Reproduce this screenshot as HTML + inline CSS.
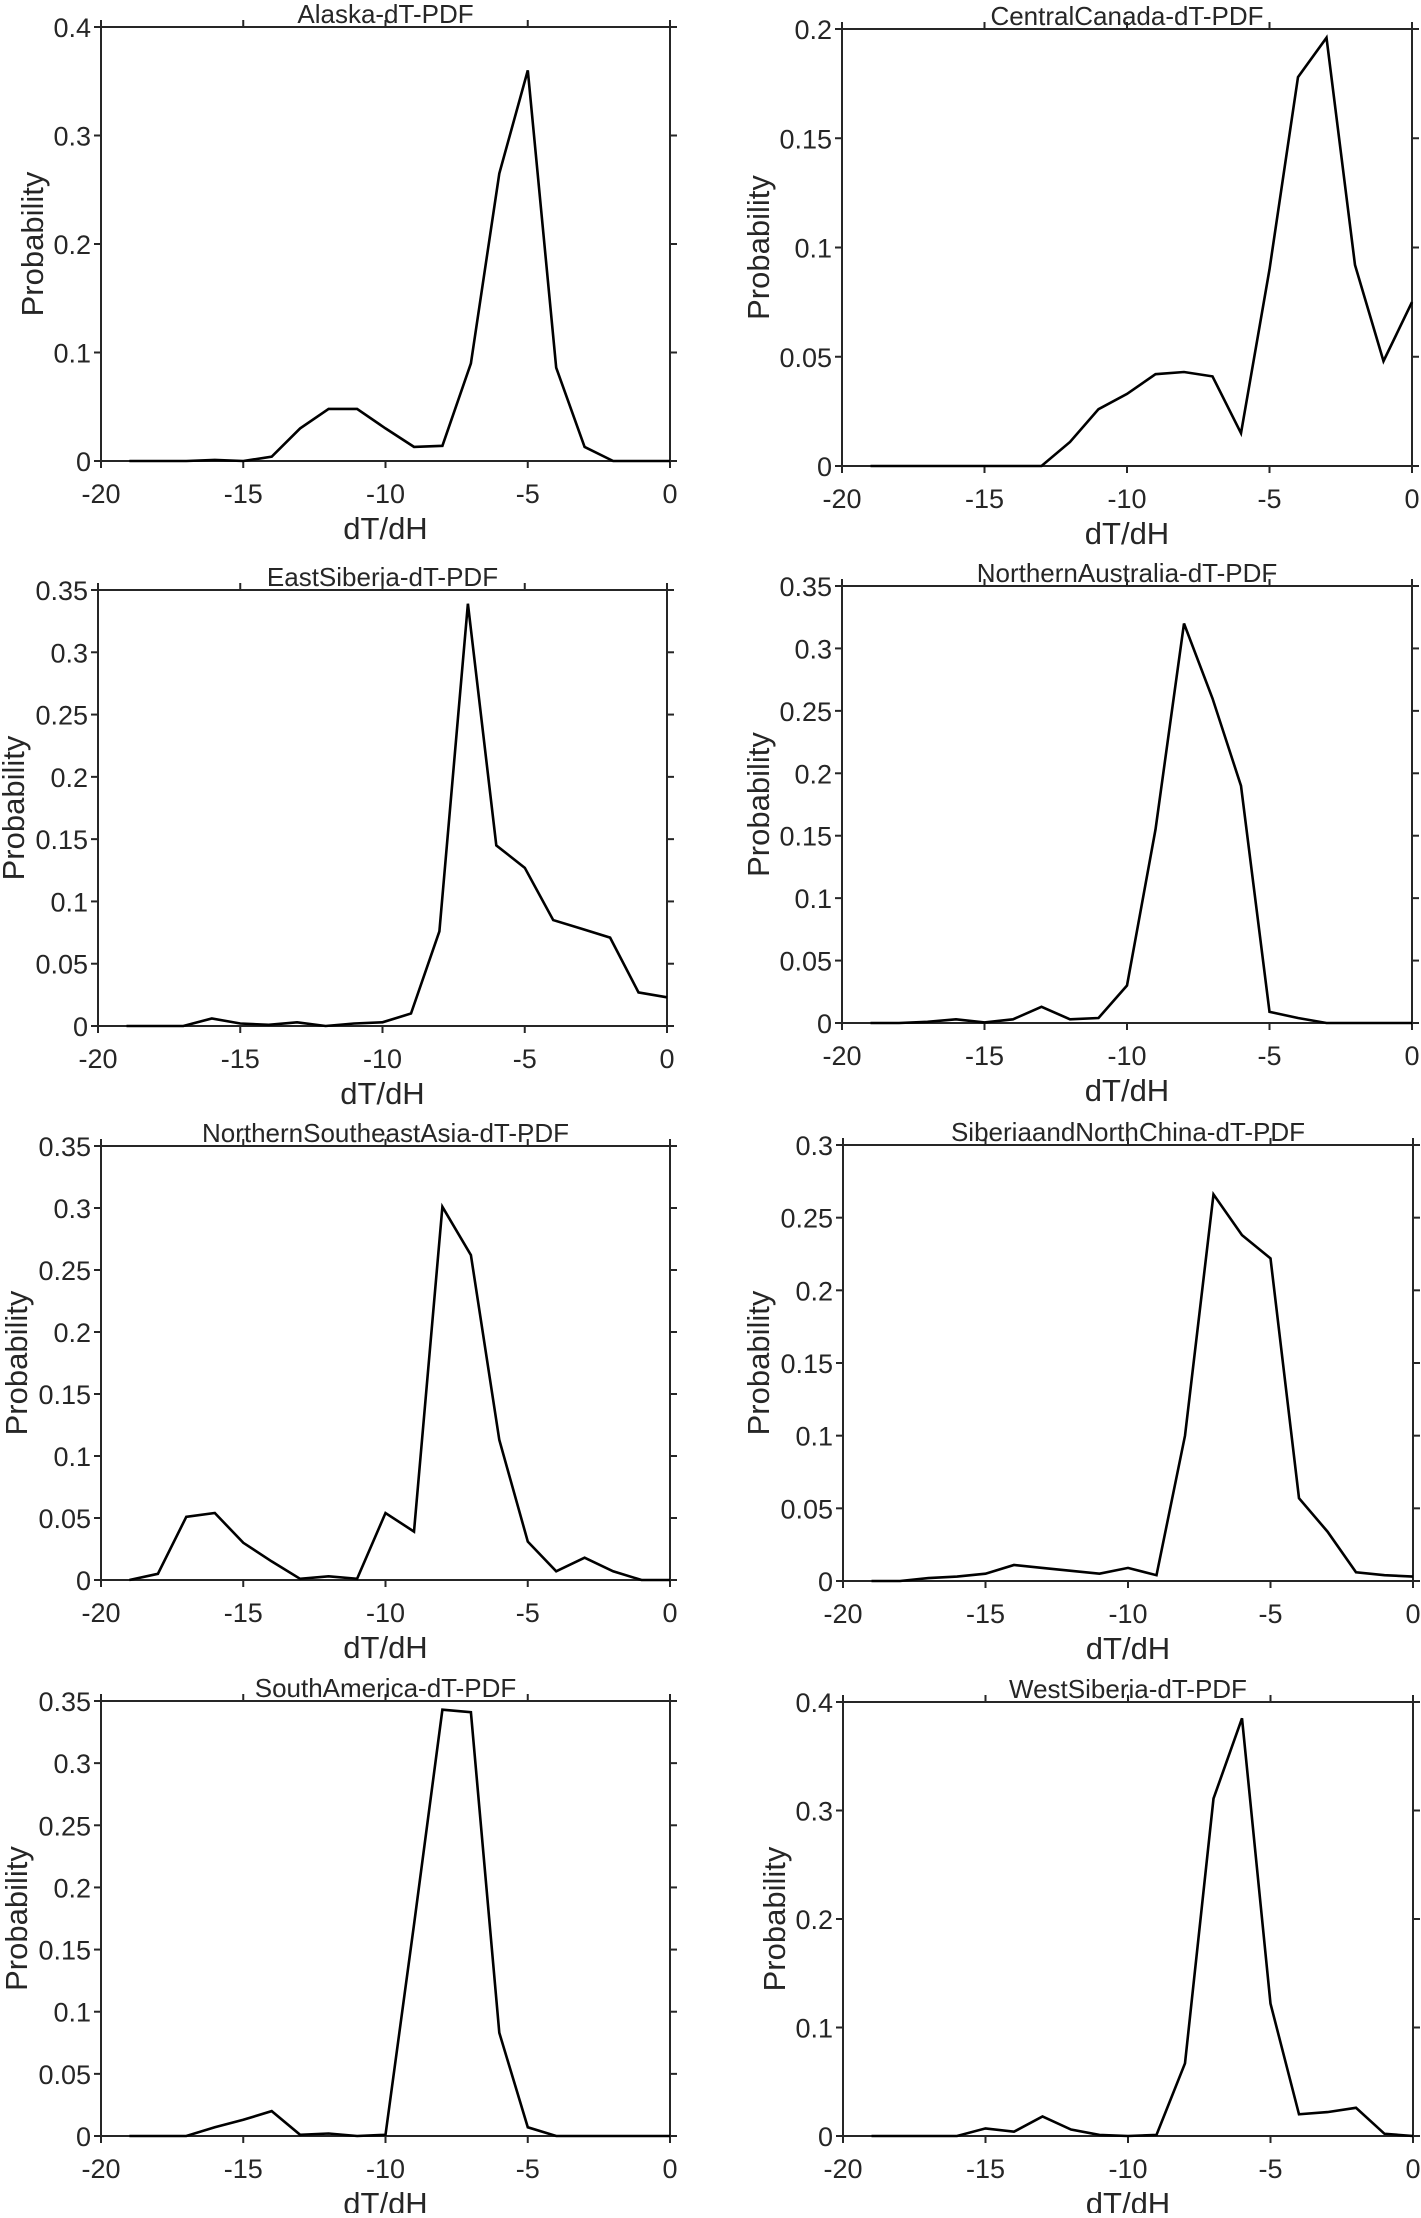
<!DOCTYPE html>
<html><head><meta charset="utf-8"><style>
html,body{margin:0;padding:0;background:#fff}
svg text{font-family:"Liberation Sans",Arial,sans-serif;fill:#262626}
</style></head><body>
<svg id="fig" width="1421" height="2213" viewBox="0 0 1421 2213" xmlns="http://www.w3.org/2000/svg"></svg>
<script>
const xCats = [-19,-18,-17,-16,-15,-14,-13,-12,-11,-10,-9,-8,-7,-6,-5,-4,-3,-2,-1,0];
const xTicks = [-20,-15,-10,-5,0];
const titles = ["Alaska-dT-PDF","CentralCanada-dT-PDF","EastSiberia-dT-PDF","NorthernAustralia-dT-PDF","NorthernSoutheastAsia-dT-PDF","SiberiaandNorthChina-dT-PDF","SouthAmerica-dT-PDF","WestSiberia-dT-PDF"];
const alaska = [0,0,0,0.001,0,0.004,0.03,0.048,0.048,0.03,0.013,0.014,0.09,0.265,0.36,0.086,0.013,0,0,0];
const centralCanada = [0,0,0,0,0,0,0,0.011,0.026,0.033,0.042,0.043,0.041,0.015,0.09,0.178,0.196,0.092,0.048,0.075];
const eastSiberia = [0,0,0,0.006,0.002,0.001,0.003,0,0.002,0.003,0.01,0.076,0.339,0.145,0.127,0.085,0.078,0.071,0.027,0.023];
const northernAustralia = [0,0,0.001,0.003,0.0005,0.003,0.013,0.003,0.004,0.03,0.155,0.32,0.26,0.19,0.009,0.004,0,0,0,0];
const nsAsia = [0,0.005,0.051,0.054,0.03,0.015,0.001,0.003,0.001,0.054,0.039,0.301,0.262,0.113,0.031,0.007,0.018,0.007,0,0];
const siberiaNChina = [0,0,0.002,0.003,0.005,0.011,0.009,0.007,0.005,0.009,0.004,0.1,0.266,0.238,0.222,0.057,0.034,0.006,0.004,0.003];
const southAmerica = [0,0,0,0.007,0.013,0.02,0.001,0.002,0,0.001,0.17,0.343,0.341,0.083,0.007,0,0,0,0,0];
const westSiberia = [0,0,0,0,0.007,0.004,0.018,0.006,0.001,0,0.001,0.067,0.311,0.385,0.122,0.02,0.022,0.026,0.002,0];
const seriesList = [alaska,centralCanada,eastSiberia,northernAustralia,nsAsia,siberiaNChina,southAmerica,westSiberia];
const yTicks1 = [0,0.1,0.2,0.3,0.4];
const yTicks2 = [0,0.05,0.1,0.15,0.2];
const yTicks35 = [0,0.05,0.1,0.15,0.2,0.25,0.3,0.35];
const yTicks3 = [0,0.05,0.1,0.15,0.2,0.25,0.3];
const yTickSets = [yTicks1,yTicks2,yTicks35,yTicks35,yTicks35,yTicks3,yTicks35,yTicks1];
const slugs = ["alaska","central-canada","east-siberia","northern-australia","northern-southeast-asia","siberia-north-china","south-america","west-siberia"];
const boxes = [[101,27,670,461],[842,29,1412,466],[98,590,667,1026],[842,586,1412,1023],[101,1146,670,1580],[843,1145,1413,1581],[101,1701,670,2136],[843,1702,1413,2136]];
const ylabX = [32,758,13,758,16,758,16,774];

const NS="http://www.w3.org/2000/svg";
const svg=document.getElementById('fig');
function mk(tag,attrs,parent){const e=document.createElementNS(NS,tag);for(const k in attrs)e.setAttribute(k,attrs[k]);(parent||svg).appendChild(e);return e;}
function fmt(v){return String(+v.toFixed(2));}

for(let p=0;p<8;p++){
  const [L,T,R,B]=boxes[p];
  const yt=yTickSets[p];const ymax=yt[yt.length-1];
  const xs=v=>L+(v+20)/20*(R-L);
  const ys=v=>B-v/ymax*(B-T);
  const g=mk('g',{});
  
  
  const box=mk('rect',{x:L,y:T,width:R-L,height:B-T,fill:'none',stroke:'#262626','stroke-width':2},g);
  
  
  for(const t of xTicks){
    const x=xs(t);
    mk('line',{x1:x,y1:B,x2:x,y2:B+7,stroke:'#262626','stroke-width':2},g);
    mk('line',{x1:x,y1:T,x2:x,y2:T-7,stroke:'#262626','stroke-width':2},g);
    const tx=mk('text',{x:x,y:B+42,'font-size':27,'text-anchor':'middle'},g);
    tx.textContent=String(t);
    
    
  }
  for(const t of yt){
    const y=ys(t);
    mk('line',{x1:L,y1:y,x2:L-7,y2:y,stroke:'#262626','stroke-width':2},g);
    mk('line',{x1:R,y1:y,x2:R+7,y2:y,stroke:'#262626','stroke-width':2},g);
    const ty=mk('text',{x:L-10,y:y+10,'font-size':27,'text-anchor':'end'},g);
    ty.textContent=fmt(t);
    
    
  }
  const xl=mk('text',{x:(L+R)/2,y:B+78,'font-size':31,'text-anchor':'middle'},g);
  xl.textContent='dT/dH';
  
  
  const cy=(T+B)/2;
  const bx=ylabX[p]+11;
  const yl=mk('text',{x:bx,y:cy,'font-size':31,'text-anchor':'middle',transform:`rotate(-90 ${bx} ${cy})`},g);
  yl.textContent='Probability';
  
  
  const ti=mk('text',{x:(L+R)/2,y:T-4,'font-size':26,'text-anchor':'middle',fill:'#000'},g);
  ti.textContent=titles[p];
  
  
  const d=seriesList[p].map((v,i)=>(i?'L':'M')+xs(xCats[i]).toFixed(1)+','+ys(v).toFixed(1)).join(' ');
  const ln=mk('path',{d:d,fill:'none',stroke:'#000','stroke-width':2.6,'stroke-linejoin':'miter'},g);
  
  
}
</script>
</body></html>
